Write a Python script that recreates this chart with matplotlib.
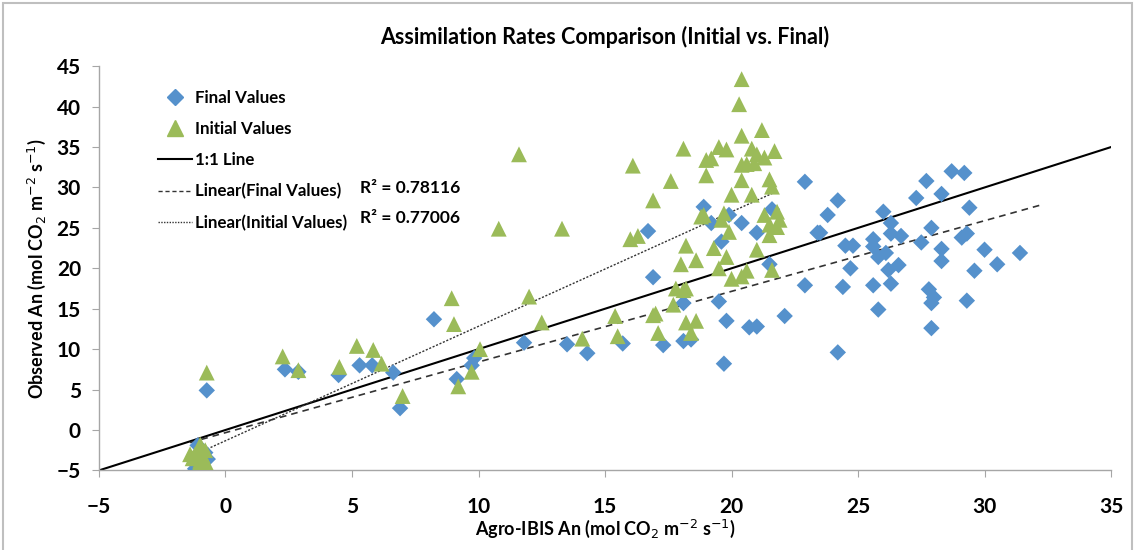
import numpy as np
import matplotlib
matplotlib.use("Agg")
import matplotlib.pyplot as plt
from matplotlib.lines import Line2D
from matplotlib.patches import Rectangle

plt.rcParams['font.family'] = ['Lato', 'DejaVu Sans']

## DATA
final_x = [-1.1, -0.8, -1.2, -0.7, -1.0, -0.9,
           -0.74, 2.35, 2.88, 4.47, 5.3, 5.8, 6.63, 6.9, 8.24, 9.14, 9.73, 9.83,
           11.8, 13.5, 14.3, 15.7, 17.3, 16.7, 16.9, 18.1, 18.4, 18.1, 19.5, 19.8,
           20.7, 21.0, 19.7, 22.1, 21.5, 18.9, 19.9, 19.2, 20.4, 21.6, 21.0, 19.6,
           22.9, 24.2, 23.8, 23.4, 23.5, 24.5, 24.8, 24.7, 22.9, 24.4, 24.2,
           26.0, 26.3, 26.3, 26.7, 25.6, 25.6, 26.1, 25.8, 26.6, 26.2, 26.3, 25.6, 25.8,
           27.3, 27.7, 28.3, 28.7, 29.2, 29.4, 27.9, 27.5, 28.3, 28.3, 29.1, 29.3,
           30.0, 30.5, 31.4, 29.6, 27.8, 28.0, 27.9, 29.3, 27.9]
final_y = [-1.9, -2.8, -4.8, -3.6, -4.2, -3.0,
           4.9, 7.5, 7.2, 6.8, 8.0, 8.0, 7.1, 2.7, 13.7, 6.3, 8.0, 8.9,
           10.8, 10.6, 9.5, 10.7, 10.5, 24.6, 18.9, 11.0, 11.2, 15.7, 15.9, 13.5,
           12.7, 12.8, 8.2, 14.1, 20.5, 27.6, 26.6, 25.6, 25.6, 27.3, 24.4, 23.3,
           30.7, 28.4, 26.6, 24.4, 24.4, 22.8, 22.8, 20.0, 17.9, 17.7, 9.6,
           27.0, 25.6, 24.3, 24.0, 23.6, 22.7, 21.9, 21.4, 20.4, 19.8, 18.1, 17.9, 14.9,
           28.7, 30.8, 29.2, 32.0, 31.8, 27.5, 25.0, 23.2, 22.4, 20.9, 23.8, 24.3,
           22.3, 20.5, 21.9, 19.7, 17.4, 16.4, 15.7, 16.0, 12.6]

initial_x = [-1.2, -1.0, -0.8, -1.3, -1.0, -0.8, -1.1, -0.9, -0.7, -1.4, -1.0,
             -0.74, 2.26, 2.88, 4.5, 5.19, 5.84, 6.17, 7.0, 8.94, 9.03, 9.2, 9.73, 10.06,
             10.8, 11.6, 12.0, 12.5, 13.3, 14.1, 15.4, 15.5, 16.0, 16.3, 16.1, 16.9,
             16.9, 17.0, 17.1, 17.6, 17.7, 17.8, 18.1, 18.2, 18.0, 18.6, 18.2, 18.2,
             18.6, 18.4, 18.1, 19.0, 19.2, 19.0, 19.5, 19.8, 18.8, 18.9, 19.7, 19.6,
             19.9, 19.3, 19.8, 19.5, 20.0, 20.4, 20.6, 20.0, 20.4, 20.3, 20.4, 20.4,
             20.6, 20.9, 20.4, 20.8, 21.0, 21.3, 21.7, 21.2, 20.8, 21.5, 21.6, 21.3,
             21.8, 21.9, 21.5, 21.8, 21.5, 21.0, 21.6]
initial_y = [-3.0, -2.2, -2.5, -3.5, -3.8, -4.2, -4.6, -3.2, -4.5, -3.0, -1.8,
             7.1, 9.1, 7.4, 7.8, 10.4, 9.9, 8.2, 4.2, 16.3, 13.1, 5.4, 7.2, 10.0,
             24.9, 34.1, 16.5, 13.3, 24.9, 11.3, 14.1, 11.6, 23.6, 24.0, 32.7, 28.4,
             14.2, 14.4, 12.0, 30.8, 15.5, 17.5, 17.3, 17.5, 20.5, 21.0, 22.8, 13.3,
             13.5, 12.0, 34.8, 33.4, 33.6, 31.5, 35.0, 34.7, 26.4, 26.6, 26.8, 26.0,
             24.5, 22.5, 21.4, 20.0, 18.7, 19.0, 19.7, 29.1, 43.4, 40.3, 36.4, 32.8,
             32.9, 33.0, 30.9, 34.8, 34.1, 33.7, 34.5, 37.1, 29.1, 31.0, 30.1, 26.6,
             27.0, 26.0, 25.4, 25.1, 24.1, 22.3, 19.8]

one_to_one = [-5, 35]
# trend lines: slope, intercept, x range
final_trend = (0.874, -0.33)
final_trend_x = [-1.4, 32.3]
initial_trend = (1.416, -1.33)
initial_trend_x = [-1.4, 21.7]
r2_final = "R² = 0.78116"
r2_initial = "R² = 0.77006"

BLUE = '#5591cc'
GREEN = '#9bbb59'

## PLOTTING
fig = plt.figure(figsize=(11.35, 5.5), dpi=100)
ax = fig.add_axes([0.0872, 0.1447, 0.8917, 0.7349])

ax.plot(one_to_one, one_to_one, color='black', linewidth=1.5, zorder=2)

xf = np.array(final_trend_x)
xi = np.array(initial_trend_x)
ax.plot(xf, np.polyval(final_trend, xf), color='#333333', linewidth=1.2,
        linestyle=(0, (4, 3)), zorder=2)
ax.plot(xi, np.polyval(initial_trend, xi), color='#333333', linewidth=1.0,
        linestyle=(0, (1.5, 1.2)), zorder=2)

ax.scatter(final_x, final_y, marker='D', s=70, color=BLUE, edgecolors='none', zorder=3)
ax.scatter(initial_x, initial_y, marker='^', s=130, color=GREEN, edgecolors='none', zorder=4)

ax.set_xlim(-5, 35)
ax.set_ylim(-5, 45)
ax.set_xticks(np.arange(-5, 36, 5))
ax.set_yticks(np.arange(-5, 46, 5))

for s in ['top', 'right']:
    ax.spines[s].set_visible(False)
for s in ['left', 'bottom']:
    ax.spines[s].set_color('#a6a6a6')
    ax.spines[s].set_linewidth(1.0)
ax.tick_params(axis='both', direction='out', length=5, color='#a6a6a6', labelsize=15)
ax.tick_params(axis='x', pad=14)
ax.tick_params(axis='y', pad=8)
for lab in ax.get_xticklabels() + ax.get_yticklabels():
    lab.set_fontweight('bold')

ax.set_title("Assimilation Rates Comparison (Initial vs. Final)", fontsize=15.5,
             fontweight='bold', pad=16)
ax.set_xlabel("Agro-IBIS An (mol CO$_2$ m$^{-2}$ s$^{-1}$)", fontsize=13,
              fontweight='bold', labelpad=1)
ax.set_ylabel("Observed An (mol CO$_2$ m$^{-2}$ s$^{-1}$)", fontsize=13,
              fontweight='bold', labelpad=6)

handles = [
    Line2D([], [], marker='D', color=BLUE, linestyle='none', markersize=8),
    Line2D([], [], marker='^', color=GREEN, linestyle='none', markersize=11),
    Line2D([], [], color='black', linewidth=1.5),
    Line2D([], [], color='#333333', linewidth=1.0, linestyle=(0, (3, 2))),
    Line2D([], [], color='#333333', linewidth=1.0, linestyle=(0, (1, 1))),
]
labels = ["Final Values", "Initial Values", "1:1 Line",
          "Linear(Final Values)", "Linear(Initial Values)"]
leg = ax.legend(handles, labels, loc='upper left', bbox_to_anchor=(0.05, 0.963),
                frameon=False, fontsize=12.2, labelspacing=0.9, handlelength=2.0,
                handletextpad=0.2, borderpad=0)
for t in leg.get_texts():
    t.set_fontweight('bold')

ax.text(0.258, 0.699, r2_final, transform=ax.transAxes, fontsize=12.5,
        fontweight='bold', va='center')
ax.text(0.258, 0.624, r2_initial, transform=ax.transAxes, fontsize=12.5,
        fontweight='bold', va='center')

# chart frame
fig.patches.append(Rectangle((0.003, -0.01), 0.994, 1.005, transform=fig.transFigure,
                             fill=False, edgecolor='#bfbfbf', linewidth=1.5))

fig.savefig("out.png", dpi=100)
